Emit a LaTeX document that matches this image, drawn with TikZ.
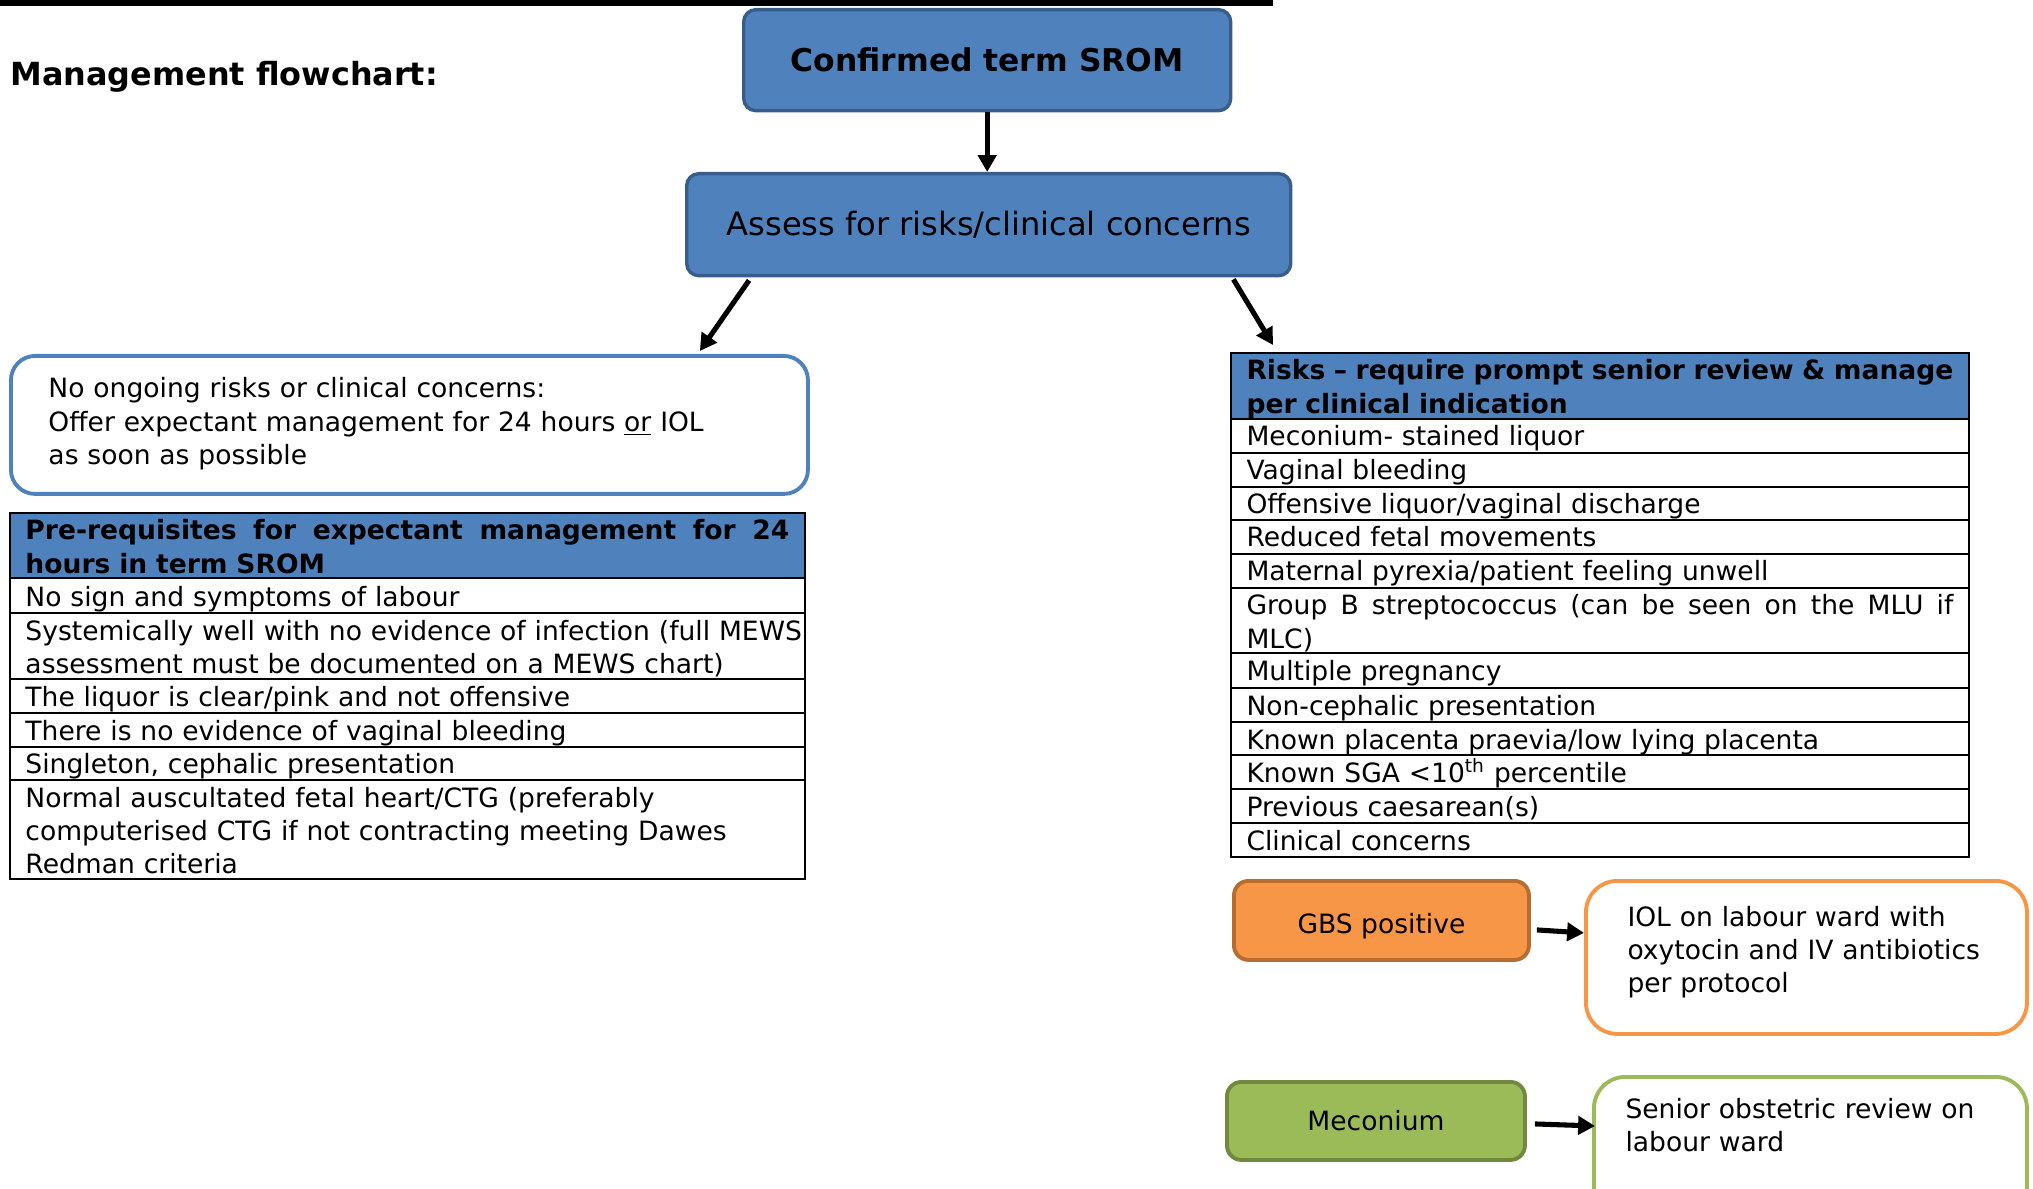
\documentclass[tikz,border=0pt]{standalone}
\usepackage{fontspec}
\setmainfont{DejaVu Sans}
\usetikzlibrary{arrows.meta,calc}
\definecolor{wblue}{HTML}{4F81BD}
\definecolor{wbluedk}{HTML}{385D8A}
\definecolor{worange}{HTML}{F79646}
\definecolor{worangedk}{HTML}{B66D31}
\definecolor{wgreen}{HTML}{9BBB59}
\definecolor{wgreendk}{HTML}{71893F}
\newcommand\bx[7]{\node[#1, minimum width={(#4-#2)*0.4142pt}, minimum height={(#5-#3)*0.4142pt}] (#6) at (#2,#3) {#7};}
\newcommand\jline[2]{\hbox to #1{\spaceskip=0.318em plus 1fil\xspaceskip=0.318em plus 1fil\relax #2}}
\begin{document}
\begin{tikzpicture}[x=0.4142pt,y=-0.4142pt,
  box/.style={draw, rectangle, inner sep=0pt, anchor=north west},
  tbl/.style={box, draw=black, line width=0.8pt},
  hdr/.style={tbl, fill=wblue},
  bluebox/.style={box, fill=wblue, draw=wbluedk, line width=1.4pt, rounded corners=5pt},
  orbox/.style={box, fill=worange, draw=worangedk, line width=1.6pt, rounded corners=6pt, font=\fontsize{11}{13.67}\selectfont},
  grbox/.style={box, fill=wgreen, draw=wgreendk, line width=1.6pt, rounded corners=6pt, font=\fontsize{11}{13.67}\selectfont},
  roundbox/.style={box, fill=white, line width=1.6pt, rounded corners=11pt},
  txt/.style={inner sep=0pt, anchor=base west, align=left, text width=430pt, font=\fontsize{11}{13.67}\selectfont},
  btxt/.style={txt, font=\fontsize{11}{13.67}\selectfont\bfseries},
  arr/.style={line width=2.1pt, -{Triangle[length=7pt,width=7.5pt]}}
]
\useasboundingbox (0,0) rectangle (2033,1189);
\clip (0,0) rectangle (2033,1189);
\fill[black] (0,0) rectangle (1273,6);
\node[inner sep=0pt, anchor=base west, font=\fontsize{13.2}{16}\selectfont\bfseries] (title) at (10,86) {Management flowchart:};

\bx{bluebox, font=\fontsize{13}{16}\selectfont\bfseries}{742}{8}{1229}{109}{conf}{Confirmed term SROM}
\bx{bluebox, font=\fontsize{13.3}{16}\selectfont}{685}{172}{1289}{274}{assess}{Assess for risks/clinical concerns}

% left branch
\bx{roundbox, draw=wblue, rounded corners=10pt}{9}{354}{806}{492}{noong}{}
\node[txt] (noongt) at (48,398) {No ongoing risks or clinical concerns:\\Offer expectant management for 24 hours \underline{or} IOL\\as soon as possible};

\bx{hdr}{9}{512}{804}{577}{lh}{}
\bx{tbl}{9}{577}{804}{612}{l1}{}
\bx{tbl}{9}{612}{804}{678}{l2}{}
\bx{tbl}{9}{678}{804}{712}{l3}{}
\bx{tbl}{9}{712}{804}{746}{l4}{}
\bx{tbl}{9}{746}{804}{779}{l5}{}
\bx{tbl}{9}{779}{804}{878}{l6}{}
\node[btxt] (lht) at (25,540) {\jline{316.4pt}{Pre-requisites for expectant management for 24}\\hours in term SROM};
\node[txt] (l1t) at (25,606) {No sign and symptoms of labour};
\node[txt] (l2t) at (25,640) {Systemically well with no evidence of infection (full MEWS\\assessment must be documented on a MEWS chart)};
\node[txt] (l3t) at (25,706) {The liquor is clear/pink and not offensive};
\node[txt] (l4t) at (25,740) {There is no evidence of vaginal bleeding};
\node[txt] (l5t) at (25,773) {Singleton, cephalic presentation};
\node[txt] (l6t) at (25,807) {Normal auscultated fetal heart/CTG (preferably\\computerised CTG if not contracting meeting Dawes\\Redman criteria};

% right branch
\bx{hdr}{1230}{352}{1968}{418}{rh}{}
\bx{tbl}{1230}{418}{1968}{452}{r1}{}
\bx{tbl}{1230}{452}{1968}{486}{r2}{}
\bx{tbl}{1230}{486}{1968}{519}{r3}{}
\bx{tbl}{1230}{519}{1968}{553}{r4}{}
\bx{tbl}{1230}{553}{1968}{587}{r5}{}
\bx{tbl}{1230}{587}{1968}{652}{r6}{}
\bx{tbl}{1230}{652}{1968}{687}{r7}{}
\bx{tbl}{1230}{687}{1968}{721}{r8}{}
\bx{tbl}{1230}{721}{1968}{754}{r9}{}
\bx{tbl}{1230}{754}{1968}{788}{r10}{}
\bx{tbl}{1230}{788}{1968}{822}{r11}{}
\bx{tbl}{1230}{822}{1968}{856}{r12}{}
\node[btxt] (rht) at (1246,380) {\jline{292.8pt}{Risks \textendash{} require prompt senior review \& manage}\\per clinical indication};
\node[txt] (r1t) at (1246,446) {Meconium- stained liquor};
\node[txt] (r2t) at (1246,480) {Vaginal bleeding};
\node[txt] (r3t) at (1246,514) {Offensive liquor/vaginal discharge};
\node[txt] (r4t) at (1246,547) {Reduced fetal movements};
\node[txt] (r5t) at (1246,581) {Maternal pyrexia/patient feeling unwell};
\node[txt] (r6t) at (1246,615) {\jline{292.8pt}{Group B streptococcus (can be seen on the MLU if}\\MLC)};
\node[txt] (r7t) at (1246,680) {Multiple pregnancy};
\node[txt] (r8t) at (1246,715) {Non-cephalic presentation};
\node[txt] (r9t) at (1246,749) {Known placenta praevia/low lying placenta};
\node[txt] (r10t) at (1246,782) {Known SGA <10\textsuperscript{th} percentile};
\node[txt] (r11t) at (1246,816) {Previous caesarean(s)};
\node[txt] (r12t) at (1246,850) {Clinical concerns};

% GBS and meconium
\bx{orbox}{1232}{879}{1527}{958}{gbs}{\raisebox{-5.5pt}[0pt][0pt]{GBS positive}}
\bx{roundbox, draw=worange, rounded corners=13pt}{1584}{879}{2025}{1032}{iol}{}
\node[txt] (iolt) at (1627,926) {IOL on labour ward with\\oxytocin and IV antibiotics\\per protocol};
\bx{grbox}{1225}{1080}{1523}{1158}{mec}{Meconium}
\bx{roundbox, draw=wgreen, rounded corners=13pt}{1592}{1075}{2025}{1230}{sen}{}
\node[txt] (sent) at (1625,1118) {Senior obstetric review on\\labour ward};

% connectors
\draw[arr] (conf.south) -- (conf.south |- assess.north);
\draw[arr] ($(assess.south west)+(64,3)$) -- ($(noong.north east)+(-110,-3)$);
\draw[arr] ($(assess.south east)+(-59,2)$) -- ($(rh.north west)+(43,-7)$);
\draw[arr] ($(gbs.east)+(6,9.5)$) -- ($(iol.west)+(0,-24.5)$);
\draw[arr] ($(mec.east)+(8,3)$) -- ($(sen.north west)+(3,51)$);
\end{tikzpicture}
\end{document}
